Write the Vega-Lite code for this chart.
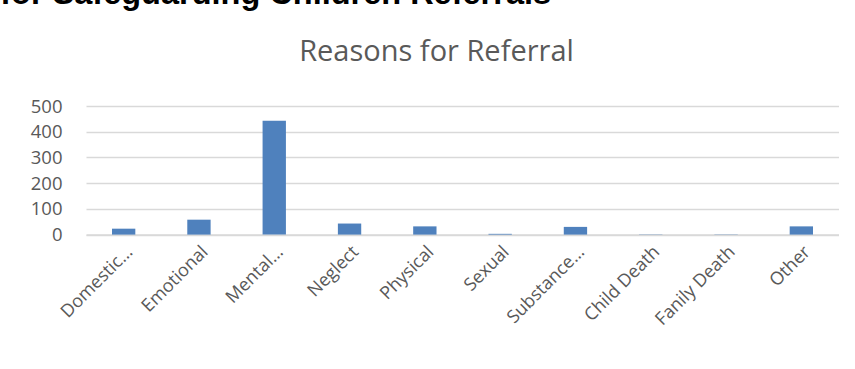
{
  "$schema": "https://vega.github.io/schema/vega-lite/v6.json",
  "background": "white",
  "padding": {"left": 0, "top": -22, "right": 0, "bottom": 0},
  "title": {
    "text": "for Safeguarding Children Referrals",
    "anchor": "start",
    "frame": "bounds",
    "dx": -30,
    "font": "Liberation Sans",
    "fontSize": 32.5,
    "fontWeight": "bold",
    "color": "#000000",
    "offset": 27.5
  },
  "spacing": 0,
  "vconcat": [
    {
      "width": 753,
      "height": 128.6,
      "title": {
        "text": "Reasons for Referral",
        "anchor": "middle",
        "frame": "group",
        "dx": -26,
        "font": "Open Sans",
        "fontSize": 29,
        "fontWeight": "normal",
        "color": "#595959",
        "offset": 30
      },
      "data": {
        "values": [
          {"reason": "Domestic…", "count": 23},
          {"reason": "Emotional", "count": 58},
          {"reason": "Mental…", "count": 443},
          {"reason": "Neglect", "count": 43},
          {"reason": "Physical", "count": 32},
          {"reason": "Sexual", "count": 3},
          {"reason": "Substance…", "count": 30},
          {"reason": "Child Death", "count": 1},
          {"reason": "Fanily Death", "count": 1},
          {"reason": "Other", "count": 32}
        ]
      },
      "mark": {"type": "bar", "color": "#4f81bd"},
      "encoding": {
        "x": {
          "field": "reason",
          "type": "nominal",
          "sort": null,
          "title": null,
          "scale": {"paddingInner": 0.69, "paddingOuter": 0.345},
          "axis": {
            "labelAngle": -45,
            "labelFont": "Open Sans",
            "labelFontSize": 18,
            "labelColor": "#595959",
            "labelPadding": 8,
            "labelLimit": 200,
            "ticks": false,
            "domainColor": "#d9d9d9",
            "domainWidth": 1.5
          }
        },
        "y": {
          "field": "count",
          "type": "quantitative",
          "title": null,
          "scale": {"domain": [0, 500], "nice": false},
          "axis": {
            "values": [0, 100, 200, 300, 400, 500],
            "labelFont": "Open Sans",
            "labelFontSize": 18.5,
            "labelColor": "#595959",
            "labelPadding": 24,
            "ticks": false,
            "domain": false,
            "gridColor": "#d9d9d9",
            "gridWidth": 1.5
          }
        }
      }
    }
  ],
  "config": {
    "view": {"stroke": null}
  }
}
